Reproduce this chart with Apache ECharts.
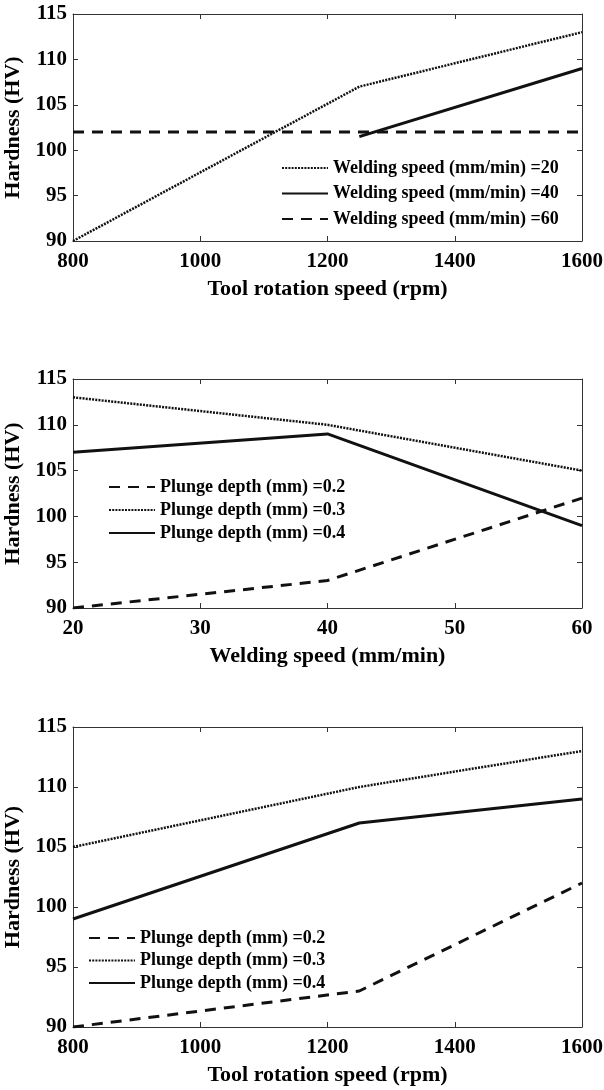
<!DOCTYPE html>
<html>
<head>
<meta charset="utf-8">
<script src="https://cdn.jsdelivr.net/npm/echarts@6/dist/echarts.min.js"></script>
<style>
html,body{margin:0;padding:0;background:#fff;}
#c{width:604px;height:1090px;}
</style>
</head>
<body>
<div id="c"></div>
<script>
// ---- data ----
const rpmTicks = [800, 1000, 1200, 1400, 1600];
const speedTicks = [20, 30, 40, 50, 60];
const hvTicks = [90, 95, 100, 105, 110, 115];

const rpm = [800, 1250, 1600];
const weldSpeed = [20, 40, 60];

// Panel 1: hardness vs tool rotation speed, by welding speed
const ws20 = [90, 107, 113];
const ws40rpm = [1250, 1600];
const ws40 = [101.5, 109];
const ws60 = [102, 102, 102];

// Panel 2: hardness vs welding speed, by plunge depth
const p2d02 = [90, 93, 102];
const p2d03 = [113, 110, 105];
const p2d04 = [107, 109, 99];

// Panel 3: hardness vs tool rotation speed, by plunge depth
const p3d02 = [90, 93, 102];
const p3d03 = [105, 110, 113];
const p3d04 = [99, 107, 109];

const names1 = ['Welding speed (mm/min) =20', 'Welding speed (mm/min) =40', 'Welding speed (mm/min) =60'];
const names2 = ['Plunge depth (mm) =0.2', 'Plunge depth (mm) =0.3', 'Plunge depth (mm) =0.4'];

// ---- styles ----
const FONT = '"Liberation Serif", "Times New Roman", serif';
const DOT = { type: [2, 1.2], width: 2.5, color: '#111' };
const SOLID = { type: 'solid', width: 3, color: '#111' };
const DASH = { type: [11, 8], width: 3, color: '#111' };

function zip(xs, ys) { return xs.map((x, i) => [x, ys[i]]); }

const axisLine = { show: true, onZero: false, lineStyle: { color: '#333', width: 1 } };
const tick = { show: true, inside: true, length: 5, lineStyle: { color: '#333' } };
const plain = v => String(v);

function xMain(grid, min, max, interval, title) {
  return {
    type: 'value', gridIndex: grid, position: 'bottom', min, max, interval,
    axisLine, axisTick: tick, splitLine: { show: false },
    axisLabel: { margin: 10, color: '#000', fontFamily: FONT, fontWeight: 'bold', fontSize: 21, formatter: plain },
    name: title, nameLocation: 'middle', nameGap: 37,
    nameTextStyle: { color: '#000', fontFamily: FONT, fontWeight: 'bold', fontSize: 22 }
  };
}
function xMirror(grid, min, max, interval) {
  return { type: 'value', gridIndex: grid, position: 'top', min, max, interval,
    axisLine, axisTick: tick, axisLabel: { show: false }, splitLine: { show: false } };
}
function yMain(grid) {
  return {
    type: 'value', gridIndex: grid, position: 'left', min: 90, max: 115, interval: 5,
    axisLine, axisTick: tick, splitLine: { show: false },
    axisLabel: { margin: 6, color: '#000', fontFamily: FONT, fontWeight: 'bold', fontSize: 21, formatter: plain },
    name: 'Hardness (HV)', nameLocation: 'middle', nameGap: 42,
    nameTextStyle: { color: '#000', fontFamily: FONT, fontWeight: 'bold', fontSize: 22 }
  };
}
function yMirror(grid) {
  return { type: 'value', gridIndex: grid, position: 'right', min: 90, max: 115, interval: 5,
    axisLine, axisTick: tick, axisLabel: { show: false }, splitLine: { show: false } };
}
function line(name, xi, yi, data, style) {
  return { type: 'line', name, xAxisIndex: xi, yAxisIndex: yi, data,
    symbol: 'none', showSymbol: false, lineStyle: style, itemStyle: { color: '#111' },
    animation: false, silent: true };
}
function legend(names, left, top, gap) {
  return {
    data: names, orient: 'vertical', left, top, padding: 0, itemGap: gap,
    itemWidth: 46, itemHeight: 14, selectedMode: false,
    itemStyle: { opacity: 0 },
    textStyle: { color: '#000', fontFamily: FONT, fontWeight: 'bold', fontSize: 18, lineHeight: 18 }
  };
}

const gridBase = { left: 73, right: 22, outerBoundsMode: 'none', containLabel: false };
const option = {
  backgroundColor: '#fff',
  animation: false,
  grid: [
    Object.assign({}, gridBase, { top: 14, height: 227 }),
    Object.assign({}, gridBase, { top: 379, height: 229 }),
    Object.assign({}, gridBase, { top: 727, height: 300 })
  ],
  xAxis: [
    xMain(0, 800, 1600, 200, 'Tool rotation speed (rpm)'),
    xMain(1, 20, 60, 10, 'Welding speed (mm/min)'),
    xMain(2, 800, 1600, 200, 'Tool rotation speed (rpm)'),
    xMirror(0, 800, 1600, 200),
    xMirror(1, 20, 60, 10),
    xMirror(2, 800, 1600, 200)
  ],
  yAxis: [yMain(0), yMain(1), yMain(2), yMirror(0), yMirror(1), yMirror(2)],
  legend: [
    legend(names1, 281, 159, 7.5),
    legend(names2, 108, 478, 5),
    legend(names2, 88, 929, 4.5)
  ],
  series: [
    line(names1[0], 0, 0, zip(rpm, ws20), DOT),
    line(names1[1], 0, 0, zip(ws40rpm, ws40), SOLID),
    line(names1[2], 0, 0, zip(rpm, ws60), DASH),

    line(names2[0], 1, 1, zip(weldSpeed, p2d02), DASH),
    line(names2[1], 1, 1, zip(weldSpeed, p2d03), DOT),
    line(names2[2], 1, 1, zip(weldSpeed, p2d04), SOLID),

    line(names2[0], 2, 2, zip(rpm, p3d02), DASH),
    line(names2[1], 2, 2, zip(rpm, p3d03), DOT),
    line(names2[2], 2, 2, zip(rpm, p3d04), SOLID)
  ]
};

const chart = echarts.init(document.getElementById('c'), null, { renderer: 'canvas' });
chart.setOption(option);
</script>
</body>
</html>
